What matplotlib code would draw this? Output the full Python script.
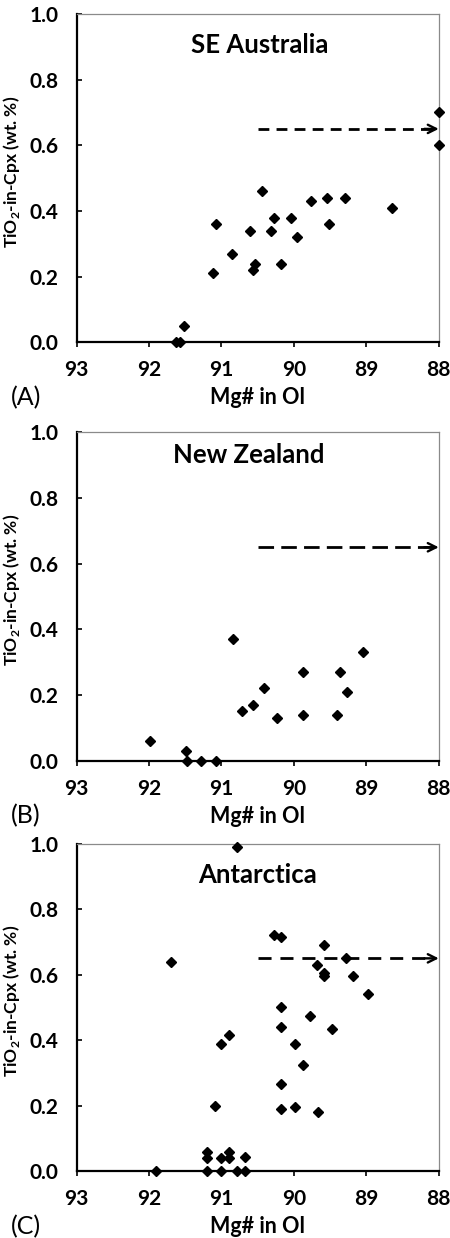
import matplotlib
matplotlib.use("Agg")
import matplotlib.pyplot as plt

plt.rcParams['font.family'] = ['Lato', 'DejaVu Sans']
plt.rcParams['mathtext.fontset'] = 'custom'
plt.rcParams['mathtext.rm'] = 'Lato:bold'
plt.rcParams['mathtext.bf'] = 'Lato:bold'

# --- data ---
REGIONS = ["SE Australia", "New Zealand", "Antarctica"]
PANEL_TAGS = ["(A)", "(B)", "(C)"]

se_mg = [91.63, 91.57, 91.51, 91.11, 91.08, 90.85, 90.61, 90.57, 90.54, 90.44,
         90.32, 90.27, 90.18, 90.04, 89.95, 89.76, 89.54, 89.51, 89.30, 88.64,
         88.0, 88.0]
se_ti = [0.0, 0.0, 0.05, 0.21, 0.36, 0.27, 0.34, 0.22, 0.24, 0.46,
         0.34, 0.38, 0.24, 0.38, 0.32, 0.43, 0.44, 0.36, 0.44, 0.41,
         0.70, 0.60]

nz_mg = [91.99, 91.49, 91.48, 91.28, 91.08, 90.84, 90.71, 90.57, 90.41, 90.23,
         89.87, 89.87, 89.41, 89.36, 89.26, 89.04]
nz_ti = [0.06, 0.03, 0.0, 0.0, 0.0, 0.37, 0.15, 0.17, 0.22, 0.13,
         0.27, 0.14, 0.14, 0.27, 0.21, 0.33]

an_mg = [91.90, 91.70, 91.20, 91.20, 91.20, 91.09, 91.00, 91.00, 91.00, 90.89,
         90.89, 90.89, 90.79, 90.79, 90.68, 90.68, 90.28, 90.18, 90.18, 90.18,
         90.18, 90.18, 89.99, 89.99, 89.88, 89.78, 89.68, 89.67, 89.59, 89.59,
         89.58, 89.48, 89.28, 89.18, 88.98]
an_ti = [0.0, 0.64, 0.06, 0.04, 0.0, 0.20, 0.04, 0.0, 0.39, 0.06,
         0.04, 0.415, 0.99, 0.0, 0.045, 0.0, 0.72, 0.715, 0.50, 0.44,
         0.265, 0.19, 0.195, 0.39, 0.325, 0.475, 0.63, 0.18, 0.69, 0.605,
         0.595, 0.435, 0.65, 0.595, 0.54]

MG_DATA = [se_mg, nz_mg, an_mg]
TI_DATA = [se_ti, nz_ti, an_ti]

# dashed arrow: start / end on the Mg# axis, at TiO2 level
ARROW_X = (90.5, 88.0)
ARROW_Y = 0.65
DASHES = [(3.9, 2.6), (5.6, 2.6), (4.7, 3.2)]  # panels were scaled differently

X_TICKS = [93, 92, 91, 90, 89, 88]
Y_TICKS = [0.0, 0.2, 0.4, 0.6, 0.8, 1.0]

# axes rectangles (figure fraction) and title positions (axes fraction)
AX_RECTS = [
    [0.170, 0.7235, 0.805, 0.2652],
    [0.170, 0.3855, 0.805, 0.2653],
    [0.170, 0.0539, 0.805, 0.2646],
]
TITLE_POS = [(0.506, 0.906), (0.476, 0.931), (0.499, 0.905)]
TAG_Y = [398, 816, 1227]  # pixel rows from top

fig = plt.figure(figsize=(4.5, 12.38), dpi=100)

for i in range(3):
    ax = fig.add_axes(AX_RECTS[i])
    ax.plot(MG_DATA[i], TI_DATA[i], linestyle='none', marker='D',
            markersize=4.8, color='black', clip_on=False, zorder=3)

    # dashed line + open arrowhead
    ax.plot([ARROW_X[0], ARROW_X[1] + 0.06], [ARROW_Y, ARROW_Y], color='black',
            linestyle=(0, DASHES[i]), linewidth=2.0, clip_on=False)
    ax.annotate("", xy=(ARROW_X[1], ARROW_Y), xytext=(ARROW_X[1] + 0.2, ARROW_Y),
                arrowprops=dict(arrowstyle='->', color='black', lw=1.7,
                                mutation_scale=15, shrinkA=0, shrinkB=0),
                annotation_clip=False)

    ax.set_xlim(93, 88)
    ax.set_ylim(0, 1.0)
    ax.set_xticks(X_TICKS)
    ax.set_yticks(Y_TICKS)
    ax.set_xticklabels([str(t) for t in X_TICKS], fontsize=15, fontweight='bold')
    ax.set_yticklabels([f"{t:.1f}" for t in Y_TICKS], fontsize=15, fontweight='bold')
    ax.tick_params(axis='x', direction='out', length=3.5, width=1.2, pad=9.5)
    ax.tick_params(axis='y', direction='in', length=3.5, width=1.2, pad=13)

    for side in ['left', 'bottom']:
        ax.spines[side].set_linewidth(1.6)
        ax.spines[side].set_color('black')
    for side in ['top', 'right']:
        ax.spines[side].set_linewidth(0.9)
        ax.spines[side].set_color('#8a8a8a')

    ax.set_xlabel("Mg# in Ol", fontsize=15.5, fontweight='bold', labelpad=5)
    ax.set_ylabel(r"TiO$_\mathrm{2}$-in-Cpx (wt. %)", fontsize=12.5,
                  fontweight='bold')
    ax.yaxis.set_label_coords(-0.150, 0.52)

    ax.text(TITLE_POS[i][0], TITLE_POS[i][1], REGIONS[i], transform=ax.transAxes,
            ha='center', va='center', fontsize=18.5, fontweight='bold')

    fig.text(11 / 450, 1 - TAG_Y[i] / 1238, PANEL_TAGS[i], ha='left', va='center',
             fontsize=18)

fig.savefig("out.png", dpi=100)
